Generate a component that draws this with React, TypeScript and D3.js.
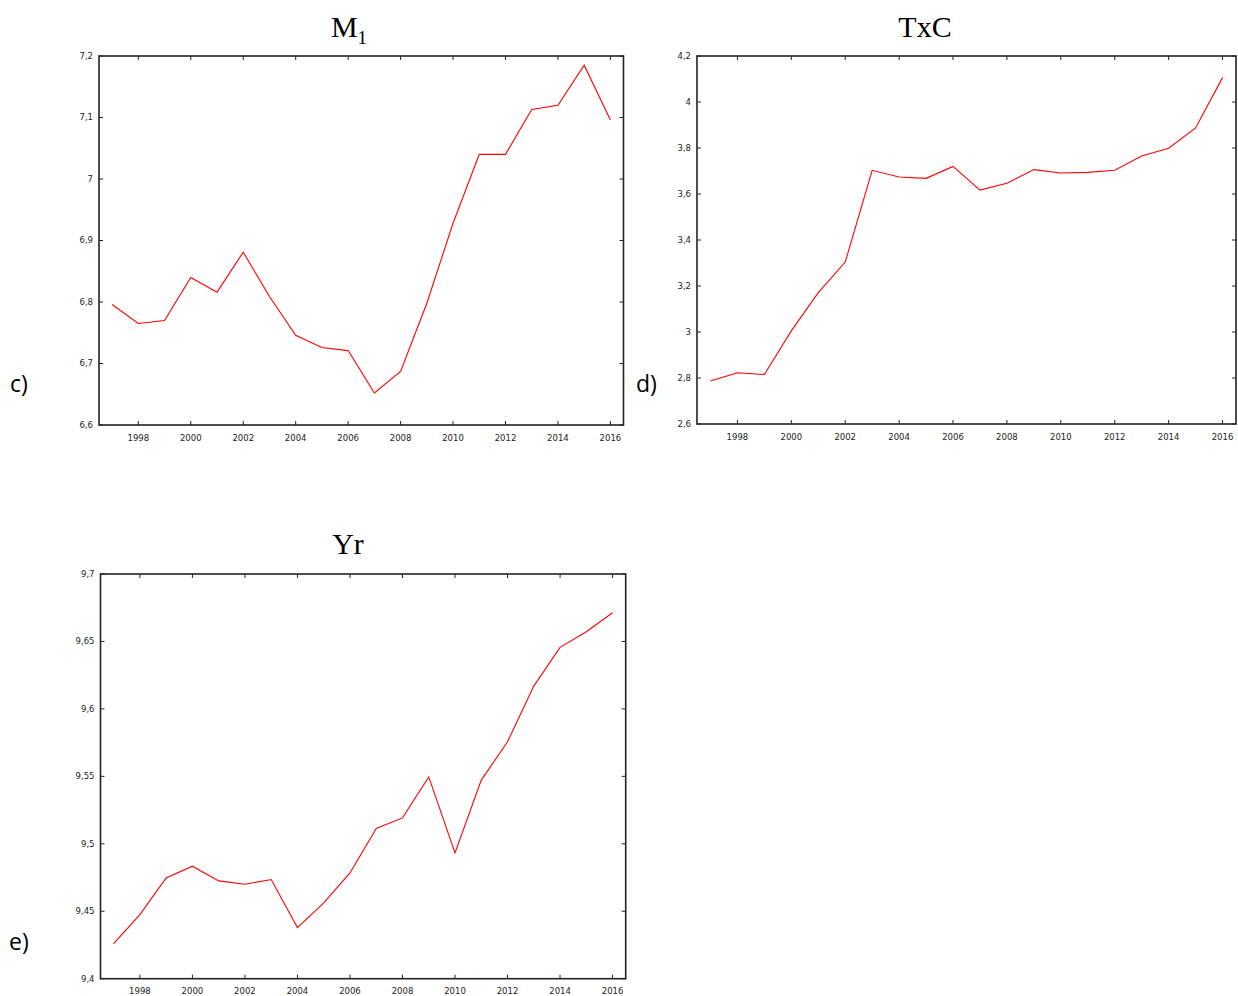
import React from "react";
import * as d3 from "d3";

// Annual series, 1997–2016
const years = d3.range(1997, 2017);

const m1Values = [
  6.796, 6.765, 6.770, 6.840, 6.816, 6.881, 6.809, 6.746, 6.726, 6.721,
  6.652, 6.687, 6.798, 6.928, 7.040, 7.040, 7.113, 7.120, 7.185, 7.096,
];

const txcValues = [
  2.787, 2.823, 2.815, 3.005, 3.171, 3.304, 3.703, 3.674, 3.668, 3.720,
  3.617, 3.647, 3.706, 3.691, 3.694, 3.703, 3.765, 3.799, 3.887, 4.106,
];

const yrValues = [
  9.426, 9.4475, 9.4747, 9.4834, 9.4725, 9.470, 9.4735, 9.4379, 9.4562, 9.4784,
  9.5113, 9.5192, 9.5496, 9.4933, 9.5472, 9.5756, 9.6169, 9.6456, 9.6572, 9.6713,
];

const xTicks = [1998, 2000, 2002, 2004, 2006, 2008, 2010, 2012, 2014, 2016];
const m1Ticks = [6.6, 6.7, 6.8, 6.9, 7.0, 7.1, 7.2];
const txcTicks = [2.6, 2.8, 3.0, 3.2, 3.4, 3.6, 3.8, 4.0, 4.2];
const yrTicks = [9.4, 9.45, 9.5, 9.55, 9.6, 9.65, 9.7];

type PanelProps = {
  values: number[];
  yTicks: number[];
  box: { left: number; right: number; top: number; bottom: number };
  title: React.ReactNode;
  titleX: number;
  titleY: number;
  tag: string;
  tagX: number;
  tagY: number;
};

const fmt = (v: number) => String(+v.toFixed(2)).replace(".", ",");

const tickFont = "'DejaVu Sans', Verdana, sans-serif";
const axisColor = "#222";

function Panel({ values, yTicks, box, title, titleX, titleY, tag, tagX, tagY }: PanelProps) {
  const x = d3.scaleLinear().domain([1996.5, 2016.5]).range([box.left, box.right]);
  const y = d3
    .scaleLinear()
    .domain([yTicks[0], yTicks[yTicks.length - 1]])
    .range([box.bottom, box.top]);
  const line = d3
    .line<number>()
    .x((_, i) => x(years[i]))
    .y((d) => y(d));
  const tl = 4;
  return (
    <g>
      <text
        x={titleX}
        y={titleY}
        textAnchor="middle"
        fontFamily="'Liberation Serif', 'Times New Roman', serif"
        fontSize={30}
        fill="#000"
      >
        {title}
      </text>
      <text x={tagX} y={tagY} fontFamily="'Open Sans', 'Liberation Sans', sans-serif" fontSize={23} fill="#000">
        {tag}
      </text>
      {/* y ticks: inward on both sides */}
      {yTicks.map((t) => (
        <g key={`y${t}`}>
          <line x1={box.left} x2={box.left + tl} y1={y(t)} y2={y(t)} stroke={axisColor} strokeWidth={1} />
          <line x1={box.right} x2={box.right - tl} y1={y(t)} y2={y(t)} stroke={axisColor} strokeWidth={1} />
          <text
            x={box.left - 6}
            y={y(t)}
            dy="0.35em"
            textAnchor="end"
            fontFamily={tickFont}
            fontSize={8.5}
            fill="#222"
          >
            {fmt(t)}
          </text>
        </g>
      ))}
      {/* x ticks: inward on top and bottom */}
      {xTicks.map((t) => (
        <g key={`x${t}`}>
          <line x1={x(t)} x2={x(t)} y1={box.bottom} y2={box.bottom - tl} stroke={axisColor} strokeWidth={1} />
          <line x1={x(t)} x2={x(t)} y1={box.top} y2={box.top + tl} stroke={axisColor} strokeWidth={1} />
          <text
            x={x(t)}
            y={box.bottom + 15.5}
            textAnchor="middle"
            fontFamily={tickFont}
            fontSize={8.5}
            fill="#222"
          >
            {t}
          </text>
        </g>
      ))}
      <path d={line(values) ?? ""} fill="none" stroke="#ff0000" strokeWidth={1.1} />
      <rect
        x={box.left}
        y={box.top}
        width={box.right - box.left}
        height={box.bottom - box.top}
        fill="none"
        stroke={axisColor}
        strokeWidth={1.6}
      />
    </g>
  );
}

export default function App() {
  return (
    <svg
      width={1238}
      height={996}
      style={{ position: "absolute", left: 0, top: 0, display: "block", background: "#fff" }}
    >
      <rect width={1238} height={996} fill="#fff" />
      <Panel
        values={m1Values}
        yTicks={m1Ticks}
        box={{ left: 99, right: 623.5, top: 56, bottom: 425 }}
        title={
          <>
            M<tspan fontSize={19} dy={7}>1</tspan>
          </>
        }
        titleX={349}
        titleY={37}
        tag="c)"
        tagX={10}
        tagY={392}
      />
      <Panel
        values={txcValues}
        yTicks={txcTicks}
        box={{ left: 697, right: 1236, top: 56, bottom: 424 }}
        title="TxC"
        titleX={925}
        titleY={37}
        tag="d)"
        tagX={636}
        tagY={392}
      />
      <Panel
        values={yrValues}
        yTicks={yrTicks}
        box={{ left: 100.5, right: 625.7, top: 574, bottom: 978.7 }}
        title="Yr"
        titleX={348}
        titleY={554}
        tag="e)"
        tagX={9}
        tagY={950}
      />
    </svg>
  );
}
